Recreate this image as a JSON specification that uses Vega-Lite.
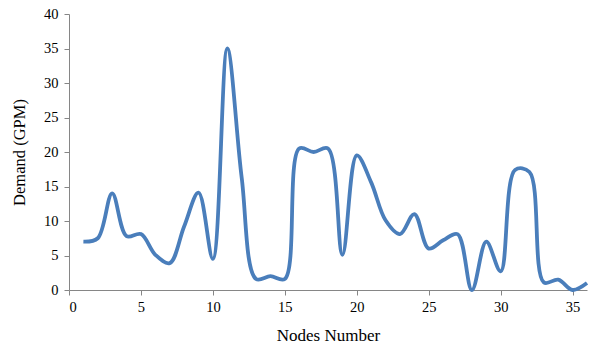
{
  "$schema": "https://vega.github.io/schema/vega-lite/v6.json",
  "width": 518,
  "height": 276,
  "autosize": "none",
  "padding": {"left": 69, "top": 14, "right": 13, "bottom": 65},
  "background": "white",
  "config": {"view": {"stroke": null}},
  "data": {"values": [
    {"node": 1, "demand": 7},
    {"node": 2, "demand": 7.5},
    {"node": 3, "demand": 14},
    {"node": 4, "demand": 7.8},
    {"node": 5, "demand": 8.1},
    {"node": 6, "demand": 5.1},
    {"node": 7, "demand": 3.9},
    {"node": 8, "demand": 9.2},
    {"node": 9, "demand": 14.1},
    {"node": 10, "demand": 4.5},
    {"node": 11, "demand": 35},
    {"node": 12, "demand": 16.3},
    {"node": 13, "demand": 1.6},
    {"node": 14, "demand": 2},
    {"node": 15, "demand": 1.6},
    {"node": 16, "demand": 20.5},
    {"node": 17, "demand": 20},
    {"node": 18, "demand": 20.5},
    {"node": 19, "demand": 5.1},
    {"node": 20, "demand": 19.5},
    {"node": 21, "demand": 15.6},
    {"node": 22, "demand": 10.1},
    {"node": 23, "demand": 8.1},
    {"node": 24, "demand": 11},
    {"node": 25, "demand": 6},
    {"node": 26, "demand": 7.2},
    {"node": 27, "demand": 8.1},
    {"node": 28, "demand": 0},
    {"node": 29, "demand": 7},
    {"node": 30, "demand": 2.7},
    {"node": 31, "demand": 17.4},
    {"node": 32, "demand": 17.1},
    {"node": 33, "demand": 1.1},
    {"node": 34, "demand": 1.5},
    {"node": 35, "demand": 0},
    {"node": 36, "demand": 1}
  ]},
  "mark": {"type": "line", "interpolate": "catmull-rom", "color": "#4a7ebb", "strokeWidth": 3.8},
  "encoding": {
    "x": {
      "field": "node", "type": "quantitative",
      "scale": {"domain": [0, 36], "nice": false, "zero": false},
      "axis": {
        "title": "Nodes Number", "values": [0, 5, 10, 15, 20, 25, 30, 35],
        "grid": false, "domainColor": "#868686", "tickColor": "#868686", "tickSize": 5,
        "labelFont": "Liberation Serif", "labelFontSize": 14.5, "labelColor": "#000000", "labelPadding": 5,
        "titleFont": "Liberation Serif", "titleFontSize": 17, "titleFontWeight": "normal", "titleColor": "#000000", "titlePadding": 14
      }
    },
    "y": {
      "field": "demand", "type": "quantitative",
      "scale": {"domain": [0, 40], "nice": false},
      "axis": {
        "title": "Demand (GPM)", "values": [0, 5, 10, 15, 20, 25, 30, 35, 40],
        "grid": false, "domainColor": "#868686", "tickColor": "#868686", "tickSize": 5,
        "labelFont": "Liberation Serif", "labelFontSize": 14.5, "labelColor": "#000000", "labelPadding": 6,
        "titleFont": "Liberation Serif", "titleFontSize": 16.5, "titleFontWeight": "normal", "titleColor": "#000000", "titlePadding": 16
      }
    }
  }
}
